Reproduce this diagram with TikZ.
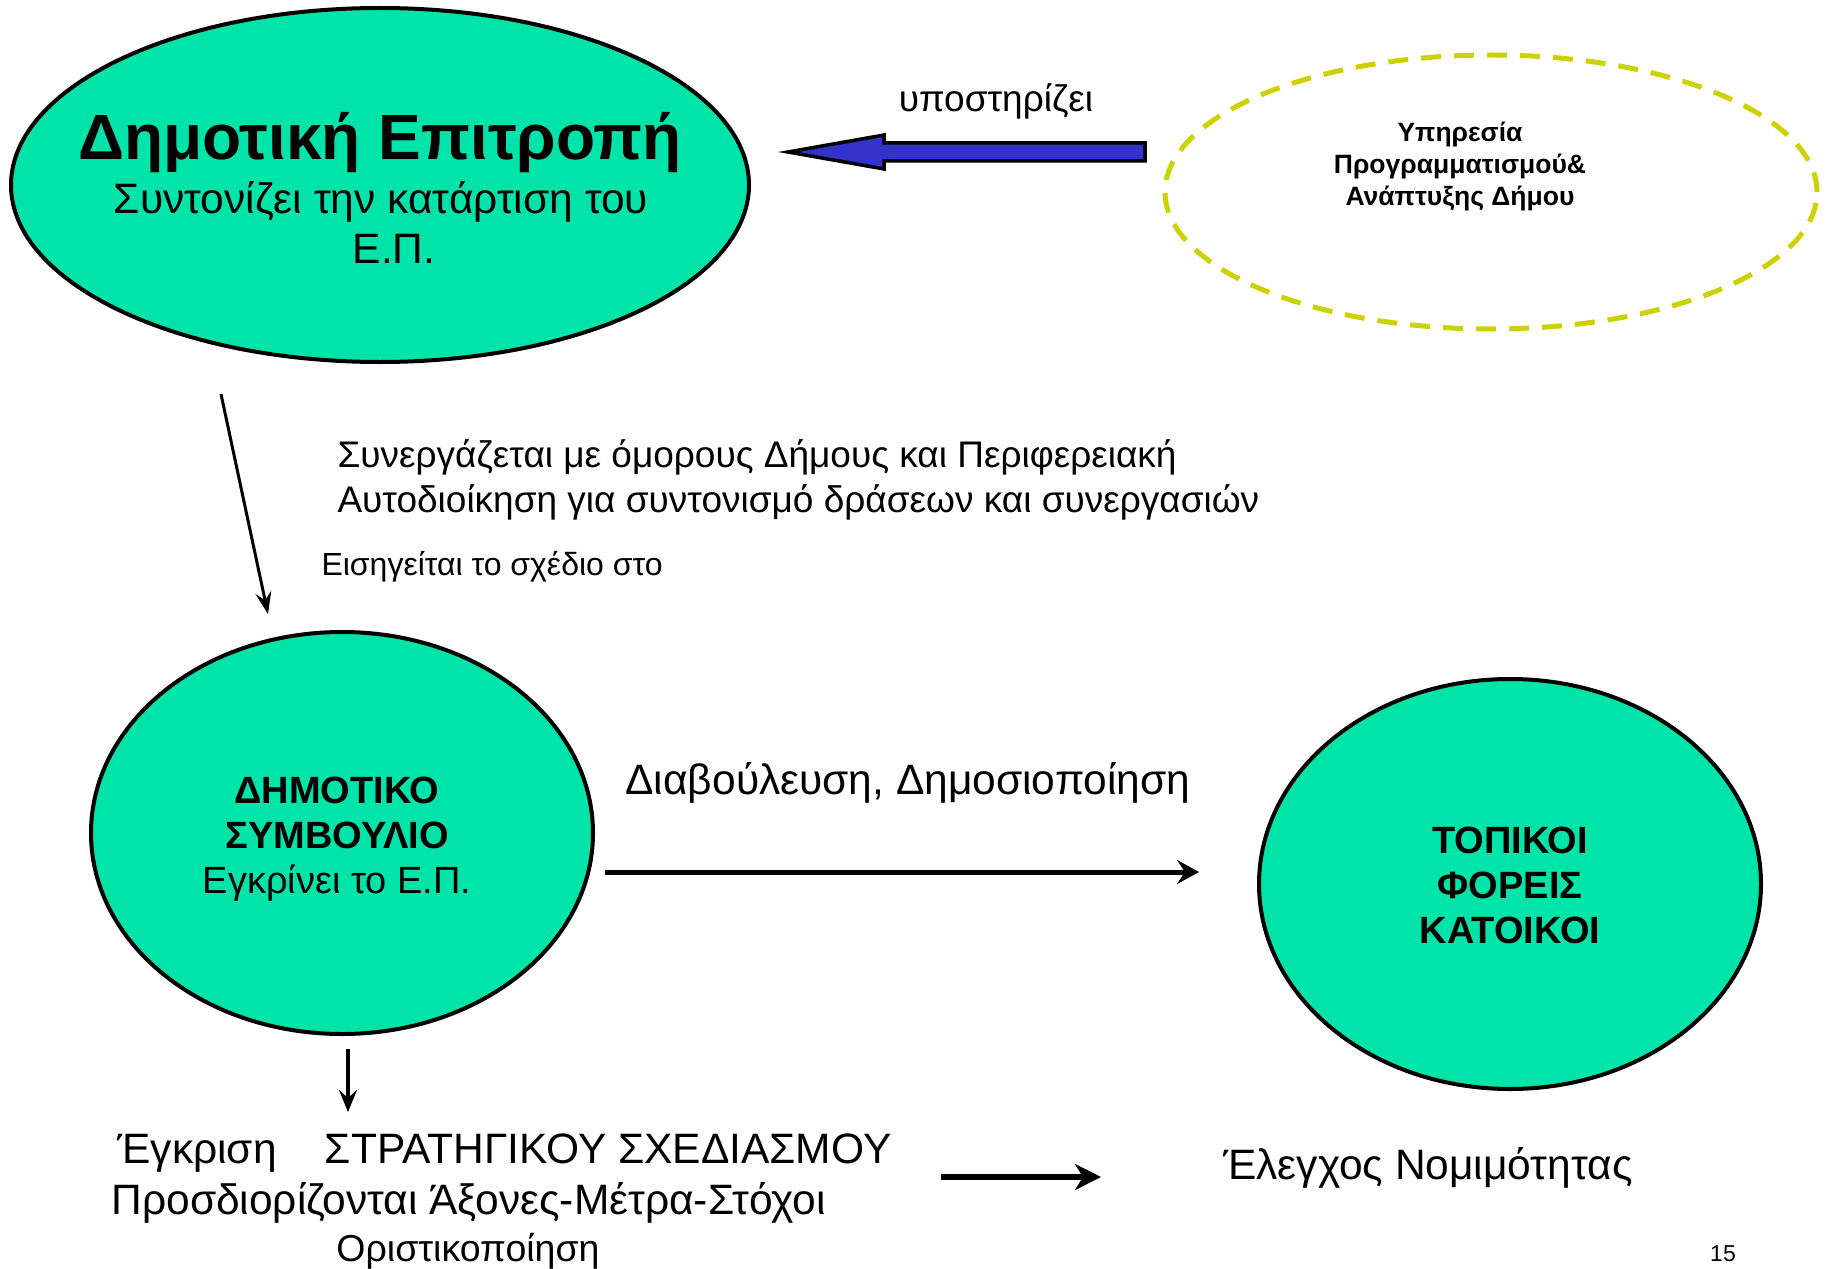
\documentclass[tikz,border=0pt]{standalone}
\usepackage{fontspec}
\setmainfont{Liberation Sans}
\usetikzlibrary{arrows.meta,shapes.geometric}
\definecolor{bubble}{RGB}{0,228,170}
\definecolor{dashline}{RGB}{204,210,0}
\definecolor{arrowblue}{RGB}{51,51,204}
\newcommand{\fs}[2]{\fontsize{#1}{#2}\selectfont}
\begin{document}
\begin{tikzpicture}[x=1pt,y=-1pt]
	\useasboundingbox (0,0) rectangle (1827,1268);
	\begin{scope}[every node/.style={ellipse,draw=black,line width=4,fill=bubble,inner sep=0}]
		\node[minimum width=738,minimum height=354] (epitropi) at (380,185) {};
		\node[minimum width=502,minimum height=402] (symvoulio) at (342,833) {};
		\node[minimum width=502,minimum height=410] (foreis) at (1510,884) {};
	\end{scope}
	
	\node[ellipse,draw=dashline,line width=5,dash pattern=on 20 off 13,minimum width=652,minimum height=274] (ypiresia) at (1491,192) {};
	
	\begin{scope}[every node/.style={align=center}]
		\node[anchor=base,font=\fs{64}{70}\bfseries] (epitropititle) at (380,160) {Δημοτική Επιτροπή};
		\node[anchor=base,font=\fs{42.5}{50}] (epitropisub) at (381,213) {Συντονίζει την κατάρτιση του};
		\node[anchor=base,font=\fs{42.5}{50}] (epitropiep) at (394,263) {Ε.Π.};
		\node[font=\fs{38}{45}] (symvouliotext) at (337,839) {\textbf{ΔΗΜΟΤΙΚΟ}\\\textbf{ΣΥΜΒΟΥΛΙΟ}\\Εγκρίνει το Ε.Π.};
		\node[font=\fs{38}{45}\bfseries] (foreistext) at (1510,885) {ΤΟΠΙΚΟΙ\\ΦΟΡΕΙΣ\\ΚΑΤΟΙΚΟΙ};
		\node[font=\fs{26.5}{32}\bfseries] (ypiresiatext) at (1460,166) {Υπηρεσία\\Προγραμματισμού\&\\Ανάπτυξης Δήμου};
	\end{scope}
	
	\draw[line width=3.5,fill=arrowblue,line join=miter] (1145,143) -- (884,143) -- (884,135) -- (788,152) -- (884,169) -- (884,161) -- (1145,161) -- cycle;
	\node[font=\fs{37}{44}] (ypostirizei) at (996,101) {υποστηρίζει};
	
	\node[anchor=west,align=left,font=\fs{37}{45}] (synergazetai) at (334,480) {Συνεργάζεται με όμορους Δήμους και Περιφερειακή\\Αυτοδιοίκηση για συντονισμό δράσεων και συνεργασιών};
	\node[anchor=west,font=\fs{32}{38}] (eisigeitai) at (318,567) {Εισηγείται το σχέδιο στο};
	\node[font=\fs{42.5}{50}] (diavoulefsi) at (908,783) {Διαβούλευση, Δημοσιοποίηση};
	
	\node[anchor=west,font=\fs{42.5}{50}] (egkrisi) at (114,1153) {Έγκριση\hspace{48pt}ΣΤΡΑΤΗΓΙΚΟΥ ΣΧΕΔΙΑΣΜΟΥ};
	\node[anchor=west,font=\fs{42.5}{50}] (axones) at (108,1203) {Προσδιορίζονται Άξονες-Μέτρα-Στόχοι};
	\node[font=\fs{37.5}{45}] (oristiko) at (468,1251) {Οριστικοποίηση};
	\node[font=\fs{42.5}{50}] (elegxos) at (1428,1168) {Έλεγχος Νομιμότητας};
	\node[font=\fs{23}{28}] (page) at (1723,1254) {15};
	
	\coordinate (slantA) at (221,394);
	\coordinate (slantB) at (268,614);
	\coordinate (midA) at (605,872);
	\coordinate (midB) at (1199,872);
	\coordinate (downA) at (348,1049);
	\coordinate (downB) at (348,1112);
	\coordinate (lowA) at (941,1177);
	\coordinate (lowB) at (1101,1177);
	
	\begin{scope}[every edge/.style={draw=black}]
		\path [-{Stealth[length=22,width=16,inset=8]},line width=3] (slantA) edge (slantB);
		\path [-{Stealth[length=22,width=24,inset=8]},line width=5] (midA) edge (midB);
		\path [-{Stealth[length=22,width=18,inset=8]},line width=3.5] (downA) edge (downB);
		\path [-{Stealth[length=26,width=26,inset=8]},line width=6] (lowA) edge (lowB);
	\end{scope}
\end{tikzpicture}
\end{document}
